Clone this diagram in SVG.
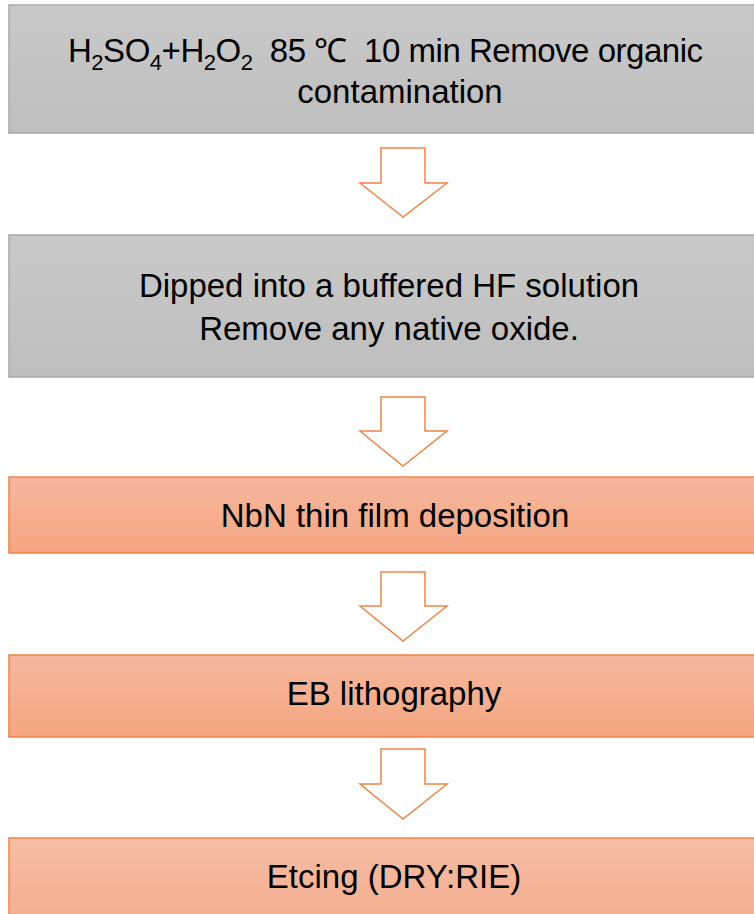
<svg xmlns="http://www.w3.org/2000/svg" width="754" height="914" viewBox="0 0 754 914">
<defs>
<linearGradient id="gGray" x1="0" y1="0" x2="0" y2="1">
<stop offset="0" stop-color="#c9c9c9"/>
<stop offset="1" stop-color="#bebebe"/>
</linearGradient>
<linearGradient id="gOrange" x1="0" y1="0" x2="0" y2="1">
<stop offset="0" stop-color="#f6b79e"/>
<stop offset="1" stop-color="#f4a680"/>
</linearGradient>
<linearGradient id="gOrange2" x1="0" y1="0" x2="0" y2="1">
<stop offset="0" stop-color="#f6bda5"/>
<stop offset="1" stop-color="#f4ab8b"/>
</linearGradient>
<style>
.gray{fill:url(#gGray);stroke:#a9a9a9;stroke-width:1.5}
.or{fill:url(#gOrange);stroke:#ef8545;stroke-width:1.5}
.or2{fill:url(#gOrange2);stroke:#ef8545;stroke-width:1.5}
.t{font-family:"Liberation Sans",Arial,sans-serif;font-size:33px;fill:#000;text-anchor:middle}
.arrow{fill:#fff;stroke:#ef8545;stroke-width:1.5}
</style>
</defs>
<g id="step1">
<rect class="gray" x="9" y="5" width="790" height="128"/>
<text class="t" x="68" y="62" style="text-anchor:start" textLength="635" lengthAdjust="spacing" xml:space="preserve">H<tspan font-size="22" dy="8">2</tspan><tspan dy="-8">SO</tspan><tspan font-size="22" dy="8">4</tspan><tspan dy="-8">+H</tspan><tspan font-size="22" dy="8">2</tspan><tspan dy="-8">O</tspan><tspan font-size="22" dy="8">2</tspan><tspan dy="-8">  85 ℃  10 min Remove organic</tspan></text>
<text class="t" x="400" y="103">contamination</text>
</g>
<g id="step2">
<rect class="gray" x="9" y="235" width="790" height="142"/>
<text class="t" x="389" y="297">Dipped into a buffered HF solution</text>
<text class="t" x="389" y="340">Remove any native oxide.</text>
</g>
<g id="step3">
<rect class="or" x="9" y="477" width="790" height="76"/>
<text class="t" x="395" y="527">NbN thin film deposition</text>
</g>
<g id="step4">
<rect class="or" x="9" y="655" width="790" height="82"/>
<text class="t" x="394" y="705">EB lithography</text>
</g>
<g id="step5">
<rect class="or2" x="9" y="838" width="790" height="100"/>
<text class="t" x="394" y="888">Etcing (DRY:RIE)</text>
</g>
<g id="connectors">
<polygon class="arrow" points="381,148 425,148 425,183 447,183 403,217 360,183 381,183"/>
<polygon class="arrow" points="381,397 425,397 425,431 447,431 403,466 360,431 381,431"/>
<polygon class="arrow" points="381,572 425,572 425,606 447,606 403,641 360,606 381,606"/>
<polygon class="arrow" points="381,749 425,749 425,784 447,784 403,819 360,784 381,784"/>
</g>
</svg>
